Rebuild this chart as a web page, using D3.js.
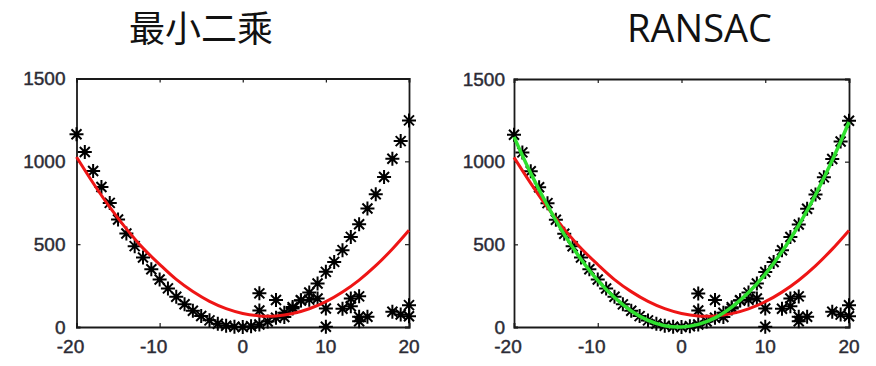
<!DOCTYPE html>
<html><head><meta charset="utf-8">
<script src="https://cdn.jsdelivr.net/npm/d3@7"></script>
<style>body{margin:0;background:#fff}svg{display:block}</style>
</head><body>
<svg id="c" width="876" height="366"></svg>
<script>
const titles = ["最小二乘", "RANSAC"];
const xTicks = [-20, -10, 0, 10, 20];
const yTicks = [0, 500, 1000, 1500];
const inlierX = d3.range(-20, 21);
const inlierY = [1163,1056,942,845,749,649,564,488,420,349,287,233,183,137,98,66,40,20,8,2,0,5,15,33,56,86,120,162,208,263,333,393,464,544,620,715,801,905,1016,1122,1247];
const outlierX = [2,2,4,5,6,7,8,9,10,10,12,13,13,14,14,14,15,18,19,20,20];
const outlierY = [203,100,163,60,112,160,165,172,112,2,110,172,125,185,62,35,62,92,75,132,65];
const fitX = [-20,-18,-16,-14,-12,-10,-8,-6,-4,-2,0,2,4,6,8,10,12,14,16,18,20];
const lsqY = [1026,869,723,592,476,378,287,214,155,111,82,67,67,81,110,153,211,283,370,471,584];
const ransacY = [1150,930,735,560,410,282,178,97,40,8,0,16,55,120,208,320,456,616,800,1008,1240];

const svg = d3.select("#c");
const panels = [
  {x0: 76.5, x1: 409, y0: 327, y1: 78.5, tx: 201, ransac: false},
  {x0: 514, x1: 849, y0: 327, y1: 79, tx: 699.5, ransac: true}
];
const star = "M-7,0L7,0M0,-7L0,7M-5,-5L5,5M-5,5L5,-5";

panels.forEach((p, i) => {
  const x = d3.scaleLinear().domain([-20, 20]).range([p.x0, p.x1]);
  const y = d3.scaleLinear().domain([0, 1500]).range([p.y0, p.y1]);
  const g = svg.append("g");

  g.append("text").attr("x", p.tx).attr("y", 42)
    .attr("text-anchor", "middle")
    .attr("font-family", i === 0 ? "Noto Sans CJK SC" : "Open Sans")
    .attr("font-size", i === 0 ? 36 : 38)
    .attr("fill", "#111").text(titles[i]);

  const axB = d3.axisBottom(x).tickValues(xTicks).tickSize(-4).tickFormat("");
  const axT = d3.axisTop(x).tickValues(xTicks).tickSize(-4).tickFormat("");
  const axL = d3.axisLeft(y).tickValues(yTicks).tickSize(-4).tickFormat("");
  const axR = d3.axisRight(y).tickValues(yTicks).tickSize(-4).tickFormat("");
  [[axB, `translate(0,${p.y0})`], [axT, `translate(0,${p.y1})`],
   [axL, `translate(${p.x0},0)`], [axR, `translate(${p.x1},0)`]].forEach(([ax, tr]) => {
    const a = g.append("g").attr("transform", tr).call(ax);
    a.select(".domain").attr("stroke", "#1a1a1a").attr("stroke-width", 1.8);
    a.selectAll(".tick line").attr("stroke", "#1a1a1a").attr("stroke-width", 1.2);
  });

  const lab = sel => sel.attr("font-family", "Liberation Sans, Arial")
    .attr("font-size", 19).attr("fill", "#2b2b35")
    .attr("stroke", "#2b2b35").attr("stroke-width", 0.45);
  g.selectAll(".xl").data(xTicks).join("text")
    .attr("x", d => x(d) + (d < 0 ? -6 : 0)).attr("y", 353)
    .attr("text-anchor", "middle").call(lab).text(d => d);
  g.selectAll(".yl").data(yTicks).join("text")
    .attr("x", p.x0 - (i === 0 ? 11 : 9)).attr("y", d => y(d) + 6.8)
    .attr("text-anchor", "end").call(lab).text(d => d);

  const pts = inlierX.map((v, k) => [v, inlierY[k]])
    .concat(outlierX.map((v, k) => [v, outlierY[k]]));
  g.selectAll(".pt").data(pts).join("path")
    .attr("transform", d => `translate(${x(d[0])},${y(d[1])})`)
    .attr("d", star).attr("stroke", "#000").attr("stroke-width", 2).attr("fill", "none");

  const line = d3.line().x(d => x(d[0])).y(d => y(d[1])).curve(d3.curveCatmullRom);
  g.append("path").datum(fitX.map((v, k) => [v, lsqY[k]]))
    .attr("d", line).attr("fill", "none").attr("stroke", "#ee1515").attr("stroke-width", 3);
  if (p.ransac) {
    g.append("path").datum(fitX.map((v, k) => [v, ransacY[k]]))
      .attr("d", line).attr("fill", "none").attr("stroke", "#2fe02f").attr("stroke-width", 3.5);
  }
});
</script>
</body></html>
